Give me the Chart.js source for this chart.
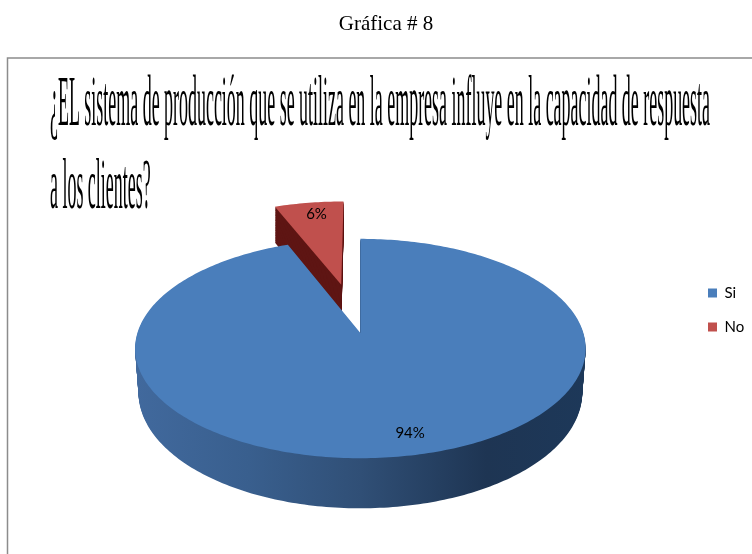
<!DOCTYPE html>
<html lang="es">
<head>
<meta charset="utf-8">
<title>Gráfica # 8</title>
<script src="https://cdn.jsdelivr.net/npm/chart.js@4"></script>
<style>
  html, body { margin: 0; padding: 0; background: #fff; }
  #wrap { position: relative; width: 752px; height: 554px; overflow: hidden; }
</style>
</head>
<body>
<div id="wrap"><canvas id="pie" width="752" height="554"></canvas></div>
<script>
const caption = "Gráfica # 8";
const titleLines = [
  "¿EL sistema de producción que se utiliza en la empresa influye en la capacidad de respuesta",
  "a los clientes?"
];
const categories = ["Si", "No"];
const values = [94, 6];
const faceColors = ["#4a7ebb", "#c0504d"];

// 3D look of the pie: ground plane tilt, perspective and wall height
const tilt = 0.482;
const persp = 0.1416;
const wallHeight = 43;
const labelRadius = 0.84;
const labelNudge = [10, 3];

// disc coords (u right, v away from viewer, unit = radius) to canvas pixels
function project(arc, u, v, t) {
  const r = arc.outerRadius;
  const denom = 1 + persp * v;
  // only the main body narrows towards its base
  const shrink = arc.options.offset ? 0 : 0.015;
  return {
    x: arc.x + (r * u / denom) * (1 - shrink * t),
    y: arc.y - (r * tilt * v / denom) + t * wallHeight / denom
  };
}

function slicePath(ctx, arc, t) {
  const r = arc.outerRadius;
  const mid = (arc.startAngle + arc.endAngle) / 2;
  const off = (arc.options.offset || 0) / r;
  const ou = Math.cos(mid) * off;
  const ov = -Math.sin(mid) * off;
  const tip = project(arc, ou, ov, t);
  ctx.beginPath();
  ctx.moveTo(tip.x, tip.y);
  const steps = Math.ceil((arc.endAngle - arc.startAngle) / (Math.PI / 180));
  for (let i = 0; i <= steps; i++) {
    const a = arc.startAngle + (arc.endAngle - arc.startAngle) * i / steps;
    const p = project(arc, ou + Math.cos(a), ov - Math.sin(a), t);
    ctx.lineTo(p.x, p.y);
  }
  ctx.closePath();
}

function drawSlice(ctx, arc, wallFill) {
  for (let t = 1; t > 0; t -= 1 / wallHeight) {
    slicePath(ctx, arc, t);
    ctx.fillStyle = wallFill;
    ctx.fill();
  }
  slicePath(ctx, arc, 0);
  ctx.fillStyle = arc.options.backgroundColor;
  ctx.fill();
}

const pie3d = {
  id: "pie3d",
  afterLayout(chart) {
    // legend sits closer to the right edge and above the pie centre
    const lg = chart.legend;
    lg.left = 708 - lg.options.labels.padding;
    lg.top -= 23; lg.bottom -= 23;
  },
  beforeDraw(chart) {
    const ctx = chart.ctx;
    ctx.save();
    ctx.fillStyle = "#fff";
    ctx.fillRect(0, 0, chart.width, chart.height);
    ctx.strokeStyle = "#8c8c8c";
    ctx.lineWidth = 1.5;
    ctx.strokeRect(7.5, 58, 800, 600);

    ctx.fillStyle = "#000";
    ctx.textBaseline = "alphabetic";
    ctx.textAlign = "center";
    ctx.font = '21px "Liberation Serif"';
    ctx.fillText(caption, 386, 30);

    // title is a tall serif squeezed horizontally
    ctx.textAlign = "left";
    ctx.font = '71px "Liberation Serif"';
    const squeeze = 660 / ctx.measureText(titleLines[0]).width;
    titleLines.forEach((line, i) => {
      ctx.save();
      ctx.translate(50, 125 + i * 83);
      ctx.scale(squeeze, 1);
      ctx.fillText(line, 0, 0);
      ctx.restore();
    });
    ctx.restore();
  },
  beforeDatasetDraw(chart, args) {
    const ctx = chart.ctx;
    const arcs = args.meta.data;
    const grad = ctx.createLinearGradient(136, 0, 585, 0);
    grad.addColorStop(0, "#41699d");
    grad.addColorStop(0.25, "#395f8e");
    grad.addColorStop(0.5, "#304f76");
    grad.addColorStop(0.78, "#1e3553");
    grad.addColorStop(1, "#1d3859");

    ctx.save();
    // exploded slice sits behind the big one
    drawSlice(ctx, arcs[1], "#5e1513");
    drawSlice(ctx, arcs[0], grad);

    ctx.fillStyle = "#000";
    ctx.font = '15px Lato';
    ctx.textAlign = "center";
    ctx.textBaseline = "middle";
    arcs.forEach((arc, i) => {
      const mid = (arc.startAngle + arc.endAngle) / 2;
      const off = (arc.options.offset || 0) / arc.outerRadius;
      const p = project(arc, Math.cos(mid) * (off + labelRadius), -Math.sin(mid) * (off + labelRadius), 0);
      ctx.fillText(values[i] + "%", p.x + labelNudge[i], p.y);
    });
    ctx.restore();
    return false;
  }
};

new Chart(document.getElementById("pie"), {
  type: "pie",
  data: {
    labels: categories,
    datasets: [{
      data: values,
      backgroundColor: faceColors,
      borderWidth: 0,
      offset: [0, 109],
      radius: 223
    }]
  },
  options: {
    responsive: false,
    animation: false,
    layout: { padding: { left: 34, top: 112 } },
    plugins: {
      tooltip: { enabled: false },
      legend: {
        position: "right",
        labels: {
          boxWidth: 9,
          boxHeight: 9,
          padding: 19,
          color: "#000",
          font: { family: "Lato", size: 15 }
        }
      }
    }
  },
  plugins: [pie3d]
});
</script>
</body>
</html>
